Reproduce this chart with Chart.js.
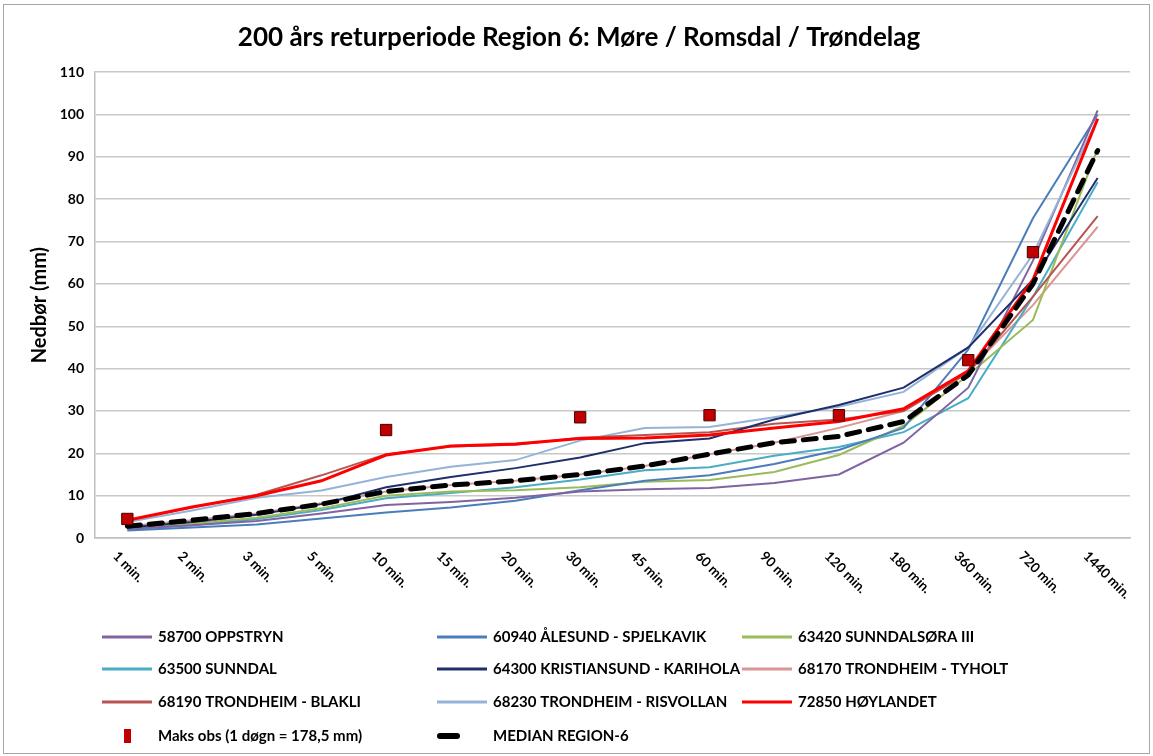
<!DOCTYPE html>
<html>
<head>
<meta charset="utf-8">
<script src="https://cdn.jsdelivr.net/npm/chart.js@4.4.1/dist/chart.umd.min.js"></script>
<style>
  html, body { margin: 0; padding: 0; background: #fff; }
  #wrap { width: 1153px; height: 756px; position: relative; }
</style>
</head>
<body>
<div id="wrap"><canvas id="chart-area"></canvas></div>
<script>
// durations on the x axis
const durations = ['1 min.', '2 min.', '3 min.', '5 min.', '10 min.', '15 min.', '20 min.', '30 min.',
  '45 min.', '60 min.', '90 min.', '120 min.', '180 min.', '360 min.', '720 min.', '1440 min.'];

// 200-year precipitation (mm) per station
const oppstryn     = [2.2, 3.0, 4.0, 5.8, 7.8, 8.5, 9.5, 11.0, 11.5, 11.8, 13.0, 15.0, 22.5, 35.5, 65.5, 101];
const alesund      = [1.8, 2.5, 3.2, 4.6, 6.0, 7.2, 8.8, 11.3, 13.5, 14.8, 17.5, 20.8, 26.0, 44.5, 75.5, 100];
const sunndalsora  = [2.3, 3.4, 4.8, 7.0, 10.0, 11.0, 11.3, 12.0, 13.3, 13.7, 15.6, 19.6, 26.5, 38.5, 51.5, 92];
const sunndal      = [2.0, 3.0, 4.5, 6.6, 9.4, 10.6, 12.0, 13.8, 16.0, 16.7, 19.4, 21.5, 25.0, 33.0, 57.0, 84];
const kristiansund = [2.5, 3.8, 5.5, 8.0, 12.0, 14.4, 16.5, 19.0, 22.4, 23.5, 28.0, 31.4, 35.5, 45.0, 61.0, 85];
const tyholt       = [2.8, 4.2, 5.8, 8.2, 11.0, 12.5, 13.5, 15.0, 17.0, 19.8, 22.5, 26.0, 30.0, 39.5, 55.0, 73.5];
const blakli       = [4.2, 7.2, 10.2, 14.8, 19.8, 21.6, 22.0, 23.7, 24.3, 25.0, 27.0, 28.0, 30.0, 39.0, 57.0, 76];
const risvollan    = [3.8, 6.5, 9.5, 11.2, 14.4, 16.8, 18.4, 23.0, 26.0, 26.2, 28.5, 31.0, 34.5, 45.0, 67.0, 99];
const hoylandet    = [4.2, 7.3, 10.0, 13.5, 19.6, 21.7, 22.2, 23.5, 23.6, 24.3, 26.0, 27.5, 30.5, 39.5, 61.0, 99];
const maksObs      = [4.5, null, null, null, 25.5, null, null, 28.5, null, 29.0, null, 29.0, null, 42.0, 67.5, null];
const median       = [2.8, 4.2, 5.8, 8.0, 11.0, 12.5, 13.5, 15.0, 17.0, 19.8, 22.5, 24.0, 27.5, 38.5, 60.0, 91.5];

// y axis range
const yMin = 0;
const yMax = 110;
const yStep = 10;

const FONT = 'Lato, "Liberation Sans", sans-serif';

function line(label, data, color, width, order) {
  return {
    label, data, borderColor: color, backgroundColor: color,
    borderWidth: width, pointRadius: 0, tension: 0, order,
  };
}

const datasets = [
  line('58700 OPPSTRYN', oppstryn, '#8064A2', 2, 5),
  line('60940 ÅLESUND - SPJELKAVIK', alesund, '#4A7EBB', 2, 5),
  line('63420 SUNNDALSØRA III', sunndalsora, '#9BBB59', 2, 5),
  line('63500 SUNNDAL', sunndal, '#4BACC6', 2, 5),
  line('64300 KRISTIANSUND - KARIHOLA', kristiansund, '#1F2F6B', 2, 4),
  line('68170 TRONDHEIM - TYHOLT', tyholt, '#DA9694', 2, 6),
  line('68190 TRONDHEIM - BLAKLI', blakli, '#B65550', 2, 4),
  line('68230 TRONDHEIM - RISVOLLAN', risvollan, '#95B3D7', 2, 4),
  line('72850 HØYLANDET', hoylandet, '#FF0000', 3, 2),
  {
    label: 'Maks obs (1 døgn = 178,5 mm)', data: maksObs, showLine: false,
    pointStyle: 'rect', pointRadius: 8, pointHoverRadius: 8,
    backgroundColor: '#C00000', borderColor: '#4A0000', borderWidth: 1, order: 0,
  },
  {
    label: 'MEDIAN REGION-6', data: median, borderColor: '#000', backgroundColor: '#000',
    borderWidth: 5, borderDash: [13, 9], borderCapStyle: 'round', pointRadius: 0, tension: 0, order: 1,
  },
];

// frame, rotated x labels and three-column legend
const decorations = {
  id: 'decorations',
  beforeDraw(chart) {
    const ctx = chart.ctx;
    ctx.save();
    ctx.fillStyle = '#fff';
    ctx.fillRect(0, 0, chart.width, chart.height);
    ctx.strokeStyle = '#A6A6A6';
    ctx.lineWidth = 1;
    ctx.strokeRect(3.5, 4.5, chart.width - 7, chart.height - 7);
    ctx.restore();
  },
  afterDraw(chart) {
    const ctx = chart.ctx;
    const xs = chart.scales.x;
    const area = chart.chartArea;
    ctx.save();
    ctx.fillStyle = '#000';
    ctx.font = 'bold 13.5px ' + FONT;
    ctx.textAlign = 'left';
    ctx.textBaseline = 'middle';
    durations.forEach((lbl, i) => {
      const px = xs.getPixelForTick(i);
      ctx.save();
      ctx.translate(px - 12, area.bottom + 16);
      ctx.rotate(Math.PI / 4);
      ctx.fillText(lbl, 0, 0);
      ctx.restore();
    });

    const cols = [102, 437, 742];
    const rows = [637, 669, 702, 736];
    ctx.font = 'bold 15px ' + FONT;
    chart.data.datasets.forEach((ds, i) => {
      const x = cols[i % 3];
      const y = rows[Math.floor(i / 3)];
      if (ds.showLine === false) {
        ctx.fillStyle = ds.backgroundColor;
        ctx.fillRect(x + 22, y - 7, 7, 14);
      } else if (ds.borderDash) {
        ctx.strokeStyle = ds.borderColor;
        ctx.lineWidth = ds.borderWidth + 1;
        ctx.lineCap = 'round';
        ctx.beginPath();
        ctx.moveTo(x + 3, y);
        ctx.lineTo(x + 20, y);
        ctx.stroke();
      } else {
        ctx.strokeStyle = ds.borderColor;
        ctx.lineWidth = 3;
        ctx.lineCap = 'butt';
        ctx.beginPath();
        ctx.moveTo(x, y);
        ctx.lineTo(x + 50, y);
        ctx.stroke();
      }
      ctx.fillStyle = '#000';
      ctx.fillText(ds.label, x + 56, y);
    });
    ctx.restore();
  },
};

const ctx = document.getElementById('chart-area').getContext('2d');
window.myLine = new Chart(ctx, {
  type: 'line',
  data: { labels: durations, datasets },
  plugins: [decorations],
  options: {
    responsive: true,
    maintainAspectRatio: false,
    animation: false,
    layout: { padding: { left: 28, right: 23, top: 0, bottom: 0 } },
    plugins: {
      legend: { display: false },
      tooltip: { enabled: false },
      title: {
        display: true,
        text: '200 års returperiode Region 6: Møre / Romsdal / Trøndelag',
        color: '#000',
        font: { family: FONT, size: 26, weight: 'bold' },
        padding: { top: 22, bottom: 19 },
      },
    },
    scales: {
      x: {
        offset: true,
        grid: { display: false, drawTicks: false },
        border: { color: '#BFBFBF', width: 1.5 },
        ticks: { display: false },
        afterFit(scale) { scale.height = 218; },
      },
      y: {
        min: yMin,
        max: yMax,
        ticks: {
          stepSize: yStep, color: '#000', padding: 11,
          font: { family: FONT, size: 14, weight: 'bold' },
        },
        grid: { color: '#C8C8C8', lineWidth: 1.5, drawTicks: false },
        border: { color: '#BFBFBF', width: 1.5 },
        title: {
          display: true, text: 'Nedbør (mm)', color: '#000',
          font: { family: FONT, size: 20, weight: 'bold' },
          padding: { top: 0, bottom: 4 },
        },
        afterFit(scale) { scale.width = 67; },
      },
    },
  },
});
</script>
</body>
</html>
